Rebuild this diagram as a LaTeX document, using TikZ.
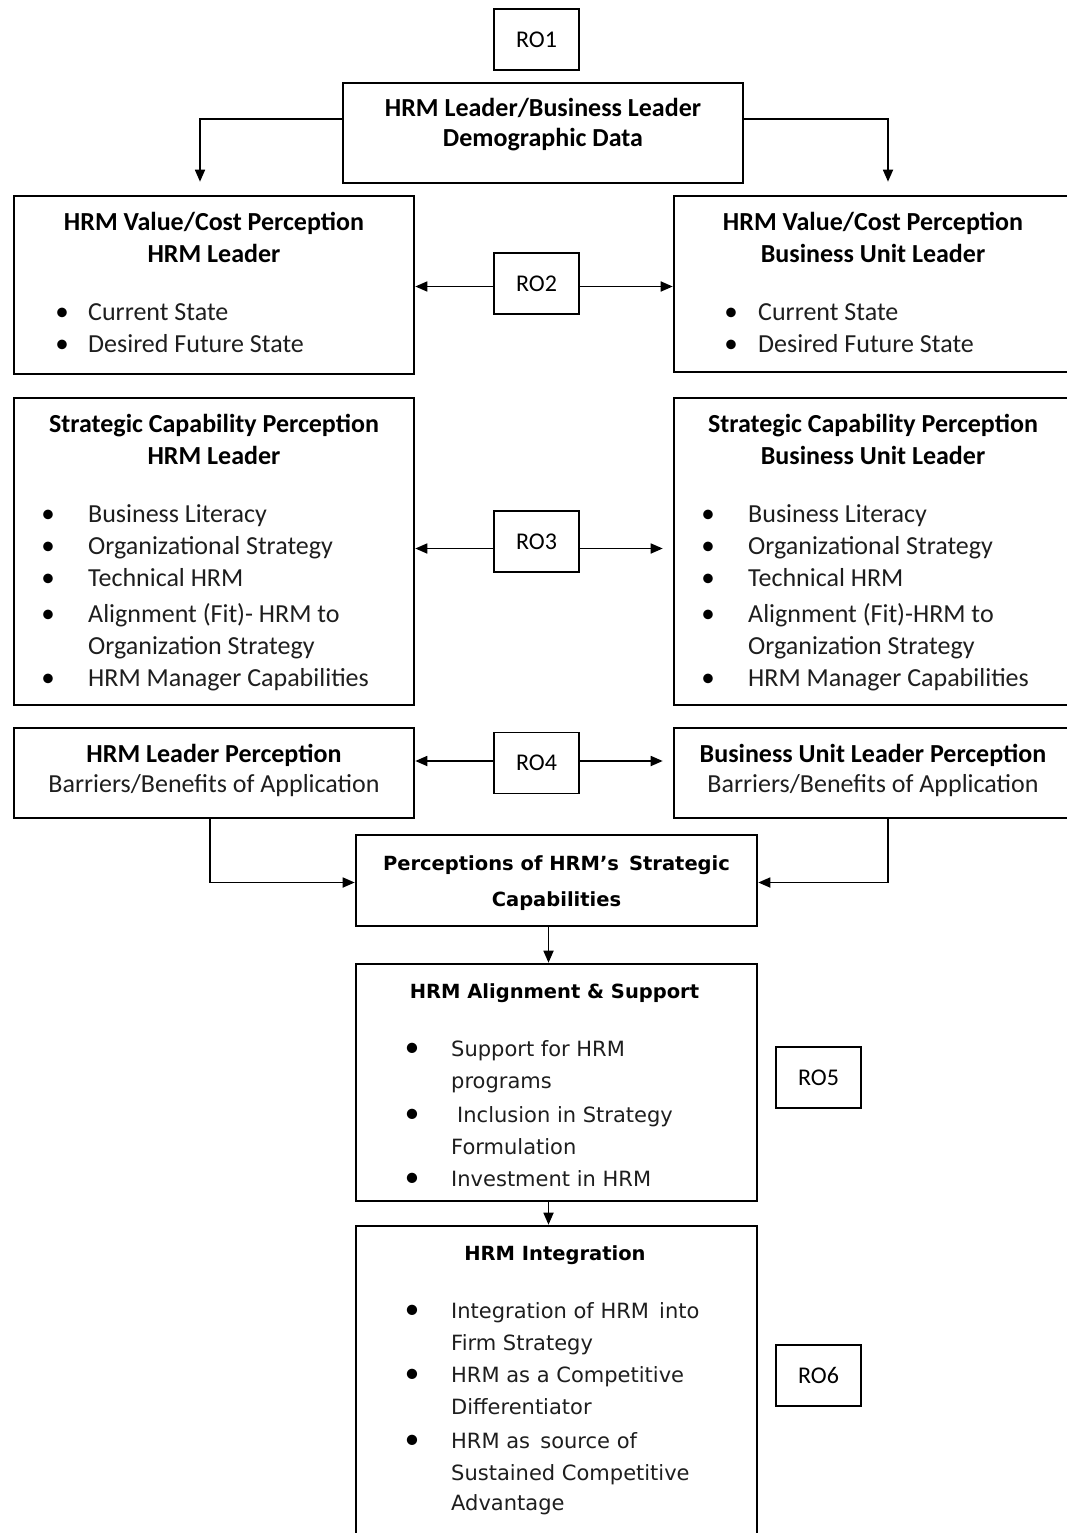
\documentclass[tikz,border=0pt]{standalone}
\usepackage{fontspec}
\setmainfont{Carlito}
\newfontfamily\verd{DejaVu Sans}
\usetikzlibrary{arrows.meta}
\definecolor{itemc}{HTML}{1E1E1E}
\tikzset{
  box/.style={draw, line width=2.6pt, inner sep=0pt},
  robox/.style={draw, line width=1.6pt, minimum width=85pt, minimum height=61pt, inner sep=0pt,
    font=\fontsize{24}{28}\selectfont},
  arr/.style={line width=1.7pt, -{Triangle[length=12pt,width=10pt]}},
  tt/.style={inner sep=0pt, text height=1.5em, text depth=0.16em, font=\fontsize{26}{32}\selectfont\bfseries},
  tr/.style={inner sep=0pt, text height=1.5em, text depth=0.16em, font=\fontsize{26}{32}\selectfont, text=itemc},
  itmA/.style={anchor=west, inner sep=0pt, text height=1.5em, text depth=0.16em, font=\fontsize{26}{32}\selectfont, text=itemc},
  itmAbul/.style={inner sep=0pt, text height=1.5em, text depth=0.16em, font=\fontsize{27}{32}\selectfont},
  ttB/.style={inner sep=0pt, text height=1.5em, text depth=0.16em, font=\verd\fontsize{19.5}{24}\selectfont\bfseries},
  itmB/.style={anchor=west, inner sep=0pt, text height=1.5em, text depth=0.16em, font=\verd\fontsize{21}{26}\selectfont, text=itemc},
  itmBbul/.style={inner sep=0pt, text height=1.4em, text depth=0.16em, font=\fontsize{29}{32}\selectfont},
}
\newcommand\bitem[6]{\node[#1bul] (#2b) at (#3,#5) {•};\node[#1] (#2) at (#4,#5) {#6};}
\begin{document}
\begin{tikzpicture}[x=1pt,y=-1pt]
\useasboundingbox (0,0) rectangle (1067,1533);
\fill[white] (0,0) rectangle (1067,1533);
\clip (0,0) rectangle (1067,1533);

% boxes
\node[robox] (ro1) at (536.5,39.5) {RO1};
\node[box, minimum width=400pt, minimum height=100pt] (demo) at (543,133) {};
\node[box, minimum width=400pt, minimum height=178pt] (vl) at (214,285) {};
\node[box, minimum width=398pt, minimum height=176pt] (vr) at (873,284) {};
\node[robox] (ro2) at (536.5,283.5) {RO2};
\node[box, minimum width=400pt, minimum height=307pt] (scl) at (214,551.5) {};
\node[box, minimum width=398pt, minimum height=307pt] (scr) at (873,551.5) {};
\node[robox] (ro3) at (536.5,541.5) {RO3};
\node[box, minimum width=400pt, minimum height=90pt] (bl) at (214,773) {};
\node[box, minimum width=398pt, minimum height=90pt] (br) at (873,773) {};
\node[robox] (ro4) at (536.5,763) {RO4};
\node[box, minimum width=401pt, minimum height=91pt] (per) at (556.5,880.5) {};
\node[box, minimum width=401pt, minimum height=237pt] (ali) at (556.5,1082.5) {};
\node[robox] (ro5) at (818.5,1077.5) {RO5};
\node[box, minimum width=401pt, minimum height=319pt] (int) at (556.5,1385.5) {};
\node[robox] (ro6) at (818.5,1375.5) {RO6};

% texts: demographic
\node[tt] (d1) at (543,110) {HRM Leader/Business Leader};
\node[tt] (d2) at (543,140) {Demographic Data};

% value/cost left
\node[tt] (vl1) at (214,224) {HRM Value/Cost Perception};
\node[tt] (vl2) at (214,256) {HRM Leader};
\bitem{itmA}{vla}{62}{88}{314}{Current State}
\bitem{itmA}{vlb}{62}{88}{346}{Desired Future State}

% value/cost right
\node[tt] (vr1) at (873,224) {HRM Value/Cost Perception};
\node[tt] (vr2) at (873,256) {Business Unit Leader};
\bitem{itmA}{vra}{731}{758}{314}{Current State}
\bitem{itmA}{vrb}{731}{758}{346}{Desired Future State}

% strategic capability left
\node[tt] (sl1) at (214,426) {Strategic Capability Perception};
\node[tt] (sl2) at (214,458) {HRM Leader};
\bitem{itmA}{sla}{48}{88}{516}{Business Literacy}
\bitem{itmA}{slb}{48}{88}{548}{Organizational Strategy}
\bitem{itmA}{slc}{48}{88}{580}{Technical HRM}
\bitem{itmA}{sld}{48}{88}{616}{Alignment (Fit)- HRM to}
\node[itmA] (sle) at (88,648) {Organization Strategy};
\bitem{itmA}{slf}{48}{88}{680}{HRM Manager Capabilities}

% strategic capability right
\node[tt] (sr1) at (873,426) {Strategic Capability Perception};
\node[tt] (sr2) at (873,458) {Business Unit Leader};
\bitem{itmA}{sra}{708}{748}{516}{Business Literacy}
\bitem{itmA}{srb}{708}{748}{548}{Organizational Strategy}
\bitem{itmA}{src}{708}{748}{580}{Technical HRM}
\bitem{itmA}{srd}{708}{748}{616}{Alignment (Fit)-HRM to}
\node[itmA] (sre) at (748,648) {Organization Strategy};
\bitem{itmA}{srf}{708}{748}{680}{HRM Manager Capabilities}

% barriers
\node[tt] (bl1) at (214,756) {HRM Leader Perception};
\node[tr] (bl2) at (214,786) {Barriers/Benefits of Application};
\node[tt] (br1) at (873,756) {Business Unit Leader Perception};
\node[tr] (br2) at (873,786) {Barriers/Benefits of Application};

% perceptions
\node[ttB] (p1) at (556.5,864) {Perceptions of HRM’s \,Strategic};
\node[ttB] (p2) at (556.5,900) {Capabilities};

% alignment
\node[ttB] (a0) at (554.5,992) {HRM Alignment \& Support};
\bitem{itmB}{aa}{412}{451}{1050}{Support for HRM}
\node[itmB] (ab) at (451,1082) {programs};
\bitem{itmB}{ac}{412}{451}{1116}{\hspace{6pt}Inclusion in Strategy}
\node[itmB] (ad) at (451,1148) {Formulation};
\bitem{itmB}{ae}{412}{451}{1180}{Investment in HRM}

% integration
\node[ttB] (i0) at (555,1254) {HRM Integration};
\bitem{itmB}{ia}{412}{451}{1312}{Integration of HRM \,into}
\node[itmB] (ib) at (451,1344) {Firm Strategy};
\bitem{itmB}{ic}{412}{451}{1376}{HRM as a Competitive}
\node[itmB] (id) at (451,1408) {Differentiator};
\bitem{itmB}{ie}{412}{451}{1442}{HRM as \,source of}
\node[itmB] (if) at (451,1474) {Sustained Competitive};
\node[itmB] (ig) at (451,1504) {Advantage};

% connectors
\draw[arr] ([yshift=14pt]demo.west) -| ([xshift=-14pt,yshift=13pt]vl.north);
\draw[arr] ([yshift=14pt]demo.east) -| ([xshift=15pt,yshift=13pt]vr.north);
\draw[arr] ([yshift=-3pt]ro2.west) -- ([yshift=-3pt]ro2.west -| vl.east);
\draw[arr] ([yshift=-3pt]ro2.east) -- ([yshift=-3pt]ro2.east -| vr.west);
\draw[arr] ([yshift=-7pt]ro3.west) -- ([yshift=-7pt]ro3.west -| vl.east);
\draw[arr] ([yshift=-7pt]ro3.east) -- ([xshift=-10pt,yshift=-7pt]ro3.east -| vr.west);
\draw[arr] ([yshift=2pt]ro4.west) -- ([yshift=2pt]ro4.west -| bl.east);
\draw[arr] ([yshift=2pt]ro4.east) -- ([xshift=-10pt,yshift=2pt]ro4.east -| br.west);
\draw[arr] ([xshift=-4pt]bl.south) |- ([yshift=-2pt]per.west);
\draw[arr] ([xshift=15pt]br.south) |- ([yshift=-2pt]per.east);
\draw[arr] ([xshift=-8pt]per.south) -- ([xshift=-8pt]ali.north);
\draw[arr] ([xshift=-8pt]ali.south) -- ([xshift=-8pt]int.north);
\end{tikzpicture}
\end{document}
